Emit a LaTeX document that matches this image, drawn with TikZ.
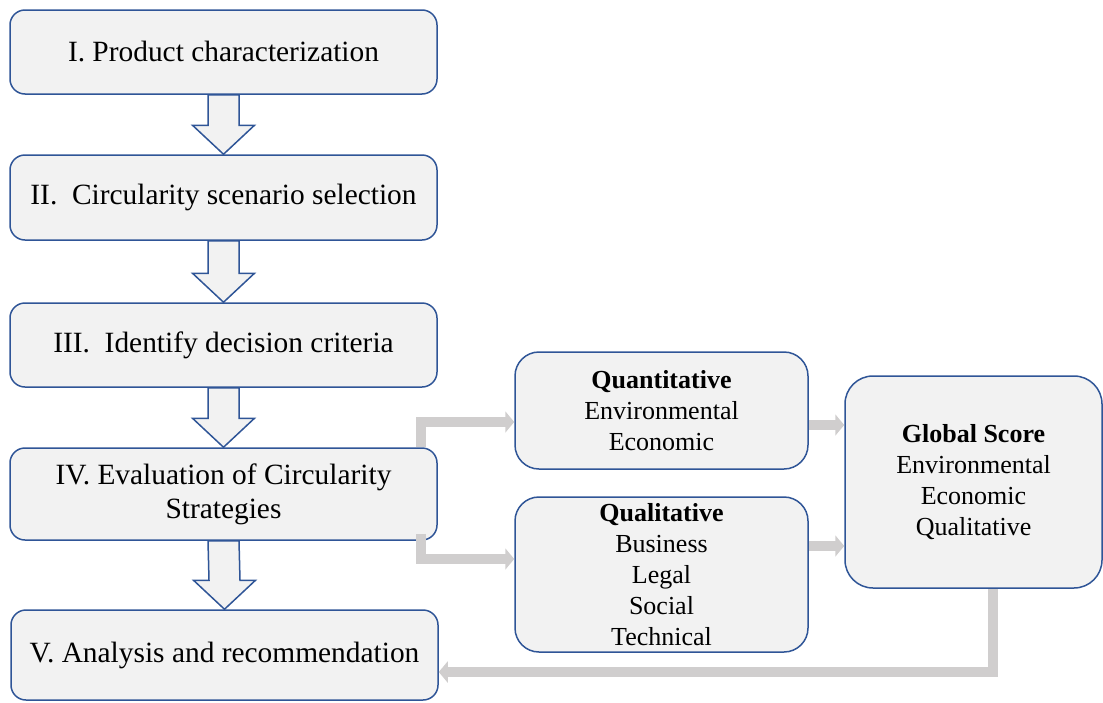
\documentclass[tikz,border=0pt]{standalone}
\usepackage{fontspec}
\setmainfont{Liberation Serif}
\usetikzlibrary{arrows.meta,calc}
\definecolor{boxblue}{RGB}{47,85,151}
\definecolor{boxfill}{RGB}{242,242,242}
\definecolor{linkgray}{RGB}{208,206,206}
% fat outlined arrow from the bottom of one step to the top of the next
\newcommand{\downstep}[2]{%
	\draw[downarrow] ($(#1.south)+(-15.5,0)$) -- ($(#1.south)+(15.5,0)$)
		-- ($(#2.north)+(15.5,-29)$) -- ($(#2.north)+(31,-29)$) -- (#2.north)
		-- ($(#2.north)+(-31,-29)$) -- ($(#2.north)+(-15.5,-29)$) -- cycle;}
\begin{document}
\begin{tikzpicture}[
		x=0.5pt,
		y=-0.5pt,
		font=\fontsize{13}{15.5}\selectfont
	]
	\tikzset{
		stepnode/.style = {draw=boxblue, fill=boxfill, line width=0.75pt, rounded corners=7.5pt, align=center, minimum width=213.5pt, inner sep=0pt, font=\fontsize{14.7}{17}\selectfont},
		subnode/.style = {draw=boxblue, fill=boxfill, line width=0.75pt, rounded corners=12pt, align=center, minimum width=146.5pt, inner sep=0pt},
		downarrow/.style = {draw=boxblue, fill=boxfill, line width=0.75pt, line join=miter},
		grayedge/.style = {draw=linkgray, line width=5pt, -{Triangle[width=10.5pt,length=4.5pt]}},
	}
	\useasboundingbox (0,0) rectangle (1103,702);
	%
	\node[stepnode, minimum height=42pt] at (223.5,52) (s1) {I. Product characterization};
	\node[stepnode, minimum height=42.5pt] at (223.5,197.5) (s2) {II.\ \ Circularity scenario selection};
	\node[stepnode, minimum height=42pt] at (223.5,345) (s3) {III.\ \ Identify decision criteria};
	\node[stepnode, minimum height=46pt] at (223.5,494) (s4) {IV. Evaluation of Circularity\\Strategies};
	\node[stepnode, minimum height=45pt] at (224.5,655) (s5) {V. Analysis and recommendation};
	%
	\node[subnode, minimum height=58.5pt] at (661.5,410.5) (quant) {\textbf{Quantitative}\\Environmental\\Economic};
	\node[subnode, minimum height=77.5pt] at (661.5,574.5) (qual) {\textbf{Qualitative}\\Business\\Legal\\Social\\Technical};
	\node[subnode, minimum width=128.5pt, minimum height=106pt, rounded corners=14pt] at (973.5,482) (glob) {\textbf{Global Score}\\Environmental\\Economic\\Qualitative};
	%
	\downstep{s1}{s2}
	\downstep{s2}{s3}
	\downstep{s3}{s4}
	\downstep{s4}{s5}
	%
	\coordinate (qg) at ($(quant.east)+(0,14.5)$);
	\coordinate (lg) at ($(qual.east)+(0,-28.5)$);
	\draw[grayedge] ($(s4.north east)+(-17,0)$) |- ($(quant.west)+(0,11.5)$);
	\draw[grayedge] ($(s4.south east)+(-17,-7)$) |- ($(qual.west)+(0,-15.5)$);
	\draw[grayedge] (qg) -- (qg -| glob.west);
	\draw[grayedge] (lg) -- (lg -| glob.west);
	\draw[grayedge] ($(glob.south)+(19,0)$) |- ($(s5.east)+(0,17)$);
\end{tikzpicture}
\end{document}
